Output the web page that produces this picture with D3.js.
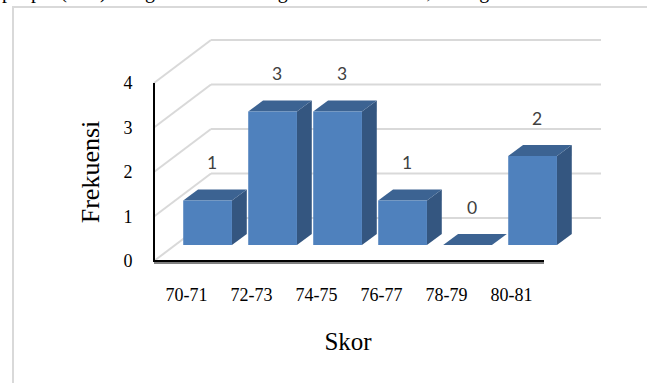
<!DOCTYPE html>
<html>
<head>
<meta charset="utf-8">
<script src="https://cdn.jsdelivr.net/npm/d3@7/dist/d3.min.js"></script>
<style>
  html, body { margin: 0; padding: 0; background: #fff; overflow: hidden; }
  svg { display: block; }
</style>
</head>
<body>
<svg id="chart" width="647" height="383"></svg>
<script>
// Frequency distribution of scores
const categories = ["70-71", "72-73", "74-75", "76-77", "78-79", "80-81"];
const frequencies = [1, 3, 3, 1, 0, 2];
const yTicks = [0, 1, 2, 3, 4];
const yTitle = "Frekuensi";
const xTitle = "Skor";
const runningText = "people (Test) using the software algorithm for details, see figure below";

const W = 647, H = 383;
const svg = d3.select("#chart");

// 3D box: front plane plus a depth offset toward the back wall
const depthX = 57, depthY = -43;
const barFront = 0.37, barBack = 0.63;

const x = d3.scaleBand().domain(categories).range([154, 544])
  .paddingInner(0.25).paddingOuter(0.125);
const xOuter = d3.scaleBand().domain(categories).range([154, 544]);
const y = d3.scaleLinear().domain([0, 4]).range([261, 83]);

const P = (px, v, d) => [px + d * depthX, y(v) + d * depthY];
const poly = pts => pts.map(p => p.join(",")).join(" ");

// running text line above the chart frame (page continues above)
svg.append("text")
  .attr("x", 2).attr("y", -2)
  .attr("font-family", "Liberation Serif, Times New Roman, serif")
  .attr("font-size", 20).attr("fill", "#000")
  .text(runningText);

// chart frame
svg.append("rect")
  .attr("x", 13).attr("y", 7).attr("width", W + 20).attr("height", H + 20)
  .attr("fill", "none").attr("stroke", "#d9d9d9").attr("stroke-width", 2);

const grid = svg.append("g").attr("stroke", "#d9d9d9").attr("stroke-width", 2).attr("fill", "none");
const [x0, x1] = x.range();
// back wall gridlines and side wall diagonals
yTicks.forEach(v => {
  const a = P(x0, v, 1), b = P(x1, v, 1), f = P(x0, v, 0);
  grid.append("line").attr("x1", a[0]).attr("y1", a[1]).attr("x2", b[0]).attr("y2", b[1]);
  grid.append("line").attr("x1", f[0]).attr("y1", f[1]).attr("x2", a[0]).attr("y2", a[1]);
});

// bars as extruded boxes
const colFront = "#4f81bd", colTop = "#3c6392", colSide = "#345680";
const bars = svg.append("g");
categories.forEach((c, i) => {
  const v = frequencies[i];
  const l = x(c), r = x(c) + x.bandwidth();
  const g = bars.append("g");
  // side face
  g.append("polygon").attr("fill", colSide)
    .attr("points", poly([P(r, 0, barFront), P(r, 0, barBack), P(r, v, barBack), P(r, v, barFront)]));
  // top face
  g.append("polygon").attr("fill", colTop)
    .attr("points", poly([P(l, v, barFront), P(r, v, barFront), P(r, v, barBack), P(l, v, barBack)]));
  // front face
  if (v > 0) {
    g.append("polygon").attr("fill", colFront)
      .attr("points", poly([P(l, 0, barFront), P(r, 0, barFront), P(r, v, barFront), P(l, v, barFront)]));
  }
});

// value labels
svg.append("g").selectAll("text").data(categories).join("text")
  .attr("x", (c) => P(xOuter(c) + xOuter.bandwidth() / 2, 0, 0.45)[0])
  .attr("y", (c, i) => P(0, frequencies[i], 0.5)[1] - 26)
  .attr("text-anchor", "middle")
  .attr("font-family", "Lato, Open Sans, sans-serif")
  .attr("font-size", 17.5).attr("fill", "#404040")
  .text((c, i) => frequencies[i]);

// axis lines
const axes = svg.append("g");
axes.append("line").attr("x1", x0).attr("x2", x1).attr("y1", y(0) + 2).attr("y2", y(0) + 2)
  .attr("stroke", "#808080").attr("stroke-width", 2);
axes.append("line").attr("x1", x0).attr("x2", x1).attr("y1", y(0)).attr("y2", y(0))
  .attr("stroke", "#000").attr("stroke-width", 2);
axes.append("line").attr("x1", x0).attr("x2", x0).attr("y1", y(4)).attr("y2", y(0) + 1)
  .attr("stroke", "#000").attr("stroke-width", 2);

// y tick labels
svg.append("g").selectAll("text").data(yTicks).join("text")
  .attr("x", 128).attr("y", v => y(v) + 6)
  .attr("text-anchor", "middle")
  .attr("font-family", "Liberation Serif, Times New Roman, serif")
  .attr("font-size", 18).attr("fill", "#000")
  .text(v => v);

// category labels
svg.append("g").selectAll("text").data(categories).join("text")
  .attr("x", c => xOuter(c) + xOuter.bandwidth() / 2).attr("y", 301)
  .attr("text-anchor", "middle")
  .attr("font-family", "Liberation Serif, Times New Roman, serif")
  .attr("font-size", 18).attr("fill", "#000")
  .text(c => c);

// axis titles
svg.append("text")
  .attr("transform", "translate(99,172) rotate(-90)")
  .attr("text-anchor", "middle")
  .attr("font-family", "Liberation Serif, Times New Roman, serif")
  .attr("font-size", 26).attr("fill", "#000")
  .text(yTitle);
svg.append("text")
  .attr("x", 348).attr("y", 350)
  .attr("text-anchor", "middle")
  .attr("font-family", "Liberation Serif, Times New Roman, serif")
  .attr("font-size", 25).attr("fill", "#000")
  .text(xTitle);
</script>
</body>
</html>
